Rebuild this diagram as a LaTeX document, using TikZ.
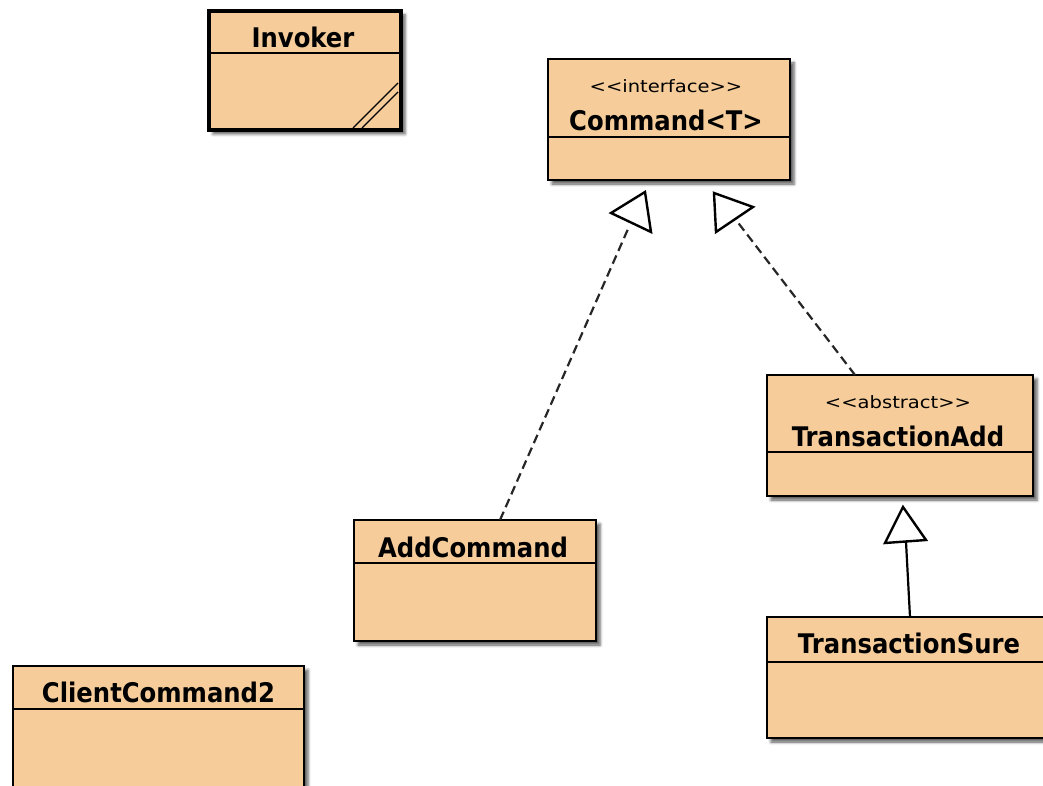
\documentclass[tikz,border=0pt]{standalone}
\usepackage{fontspec}
\setmainfont{DejaVu Sans}
\newfontfamily\stereofont[FakeStretch=1.15]{DejaVu Sans}
\newfontfamily\namefont[FakeStretch=0.9]{DejaVu Sans}
\usetikzlibrary{shadows.blur}
\definecolor{classfill}{RGB}{245,204,154}
\tikzset{
  umlbox/.style={draw=black, fill=classfill, line width=2.4pt, rectangle, outer sep=0pt, inner sep=0pt,
    blur shadow={shadow xshift=4pt, shadow yshift=-4pt, shadow blur radius=3pt, shadow opacity=65}},
  activebox/.style={umlbox, line width=4pt},
  sepline/.style={draw=black, line width=2.2pt},
  cname/.style={font=\fontsize{27}{29}\namefont\bfseries, inner sep=0pt},
  stereo/.style={font=\fontsize{17}{19}\stereofont, inner sep=0pt},
  realize/.style={draw=black!85, line width=2.2pt, dash pattern=on 9pt off 5pt},
  inherit/.style={draw=black, line width=2.2pt},
  hollowtip/.style={draw=black, fill=white, line width=2.4pt, line join=miter},
}
\begin{document}
\begin{tikzpicture}[x=1pt,y=-1pt]
\useasboundingbox (0,0) rectangle (1043,786);
\clip (0,0) rectangle (1043,786);

% Invoker
\node[activebox, minimum width=192pt, minimum height=119pt] (invoker) at (305,70.5) {};
\draw[sepline] ([yshift=-42pt]invoker.north west) -- ([yshift=-42pt]invoker.north east);
\node[cname] (invokerT) at (303,37) {Invoker};
\draw[line width=1.4pt] ([xshift=-48pt,yshift=2pt]invoker.south east) -- ([xshift=-3pt,yshift=47pt]invoker.south east);
\draw[line width=1.4pt] ([xshift=-39pt,yshift=2pt]invoker.south east) -- ([xshift=-3pt,yshift=38pt]invoker.south east);

% Command<T>
\node[umlbox, minimum width=242pt, minimum height=121pt] (command) at (669,119.5) {};
\draw[sepline] ([yshift=-78pt]command.north west) -- ([yshift=-78pt]command.north east);
\node[stereo] (commandS) at (666,86) {<<interface>>};
\node[cname] (commandT) at (666,120) {Command<T>};

% TransactionAdd
\node[umlbox, minimum width=266pt, minimum height=121pt] (tadd) at (900,435.5) {};
\draw[sepline] ([yshift=-77pt]tadd.north west) -- ([yshift=-77pt]tadd.north east);
\node[stereo] (taddS) at (898,402) {<<abstract>>};
\node[cname] (taddT) at (898,436) {TransactionAdd};

% AddCommand
\node[umlbox, minimum width=242pt, minimum height=121pt] (addc) at (475,580.5) {};
\draw[sepline] ([yshift=-43pt]addc.north west) -- ([yshift=-43pt]addc.north east);
\node[cname] (addcT) at (473,547) {AddCommand};

% TransactionSure
\node[umlbox, minimum width=284pt, minimum height=121pt] (tsure) at (909,677.5) {};
\draw[sepline] ([yshift=-45pt]tsure.north west) -- ([yshift=-45pt]tsure.north east);
\node[cname] (tsureT) at (909,643) {TransactionSure};

% ClientCommand2
\node[umlbox, minimum width=291pt, minimum height=121pt] (client) at (158.5,726.5) {};
\draw[sepline] ([yshift=-43pt]client.north west) -- ([yshift=-43pt]client.north east);
\node[cname] (clientT) at (158.5,692) {ClientCommand2};

% connectors
\coordinate (a1) at (628,229);
\coordinate (a2) at (736,220);
\coordinate (a3) at (906,542);
\coordinate (t1a) at (611,213);
\coordinate (t1b) at (645,192);
\coordinate (t1c) at (651,232);
\coordinate (t2a) at (714,193);
\coordinate (t2b) at (753,207);
\coordinate (t2c) at (716,232);
\coordinate (t3a) at (903,507);
\coordinate (t3b) at (885,543);
\coordinate (t3c) at (926,540);

\draw[realize] (addc.north -| 500,0) -- (a1);
\draw[hollowtip] (t1a) -- (t1b) -- (t1c) -- cycle;
\draw[realize] (tadd.north -| 855,0) -- (a2);
\draw[hollowtip] (t2a) -- (t2b) -- (t2c) -- cycle;
\draw[inherit] (tsure.north -| 910,0) -- (a3);
\draw[hollowtip] (t3a) -- (t3b) -- (t3c) -- cycle;
\end{tikzpicture}
\end{document}
